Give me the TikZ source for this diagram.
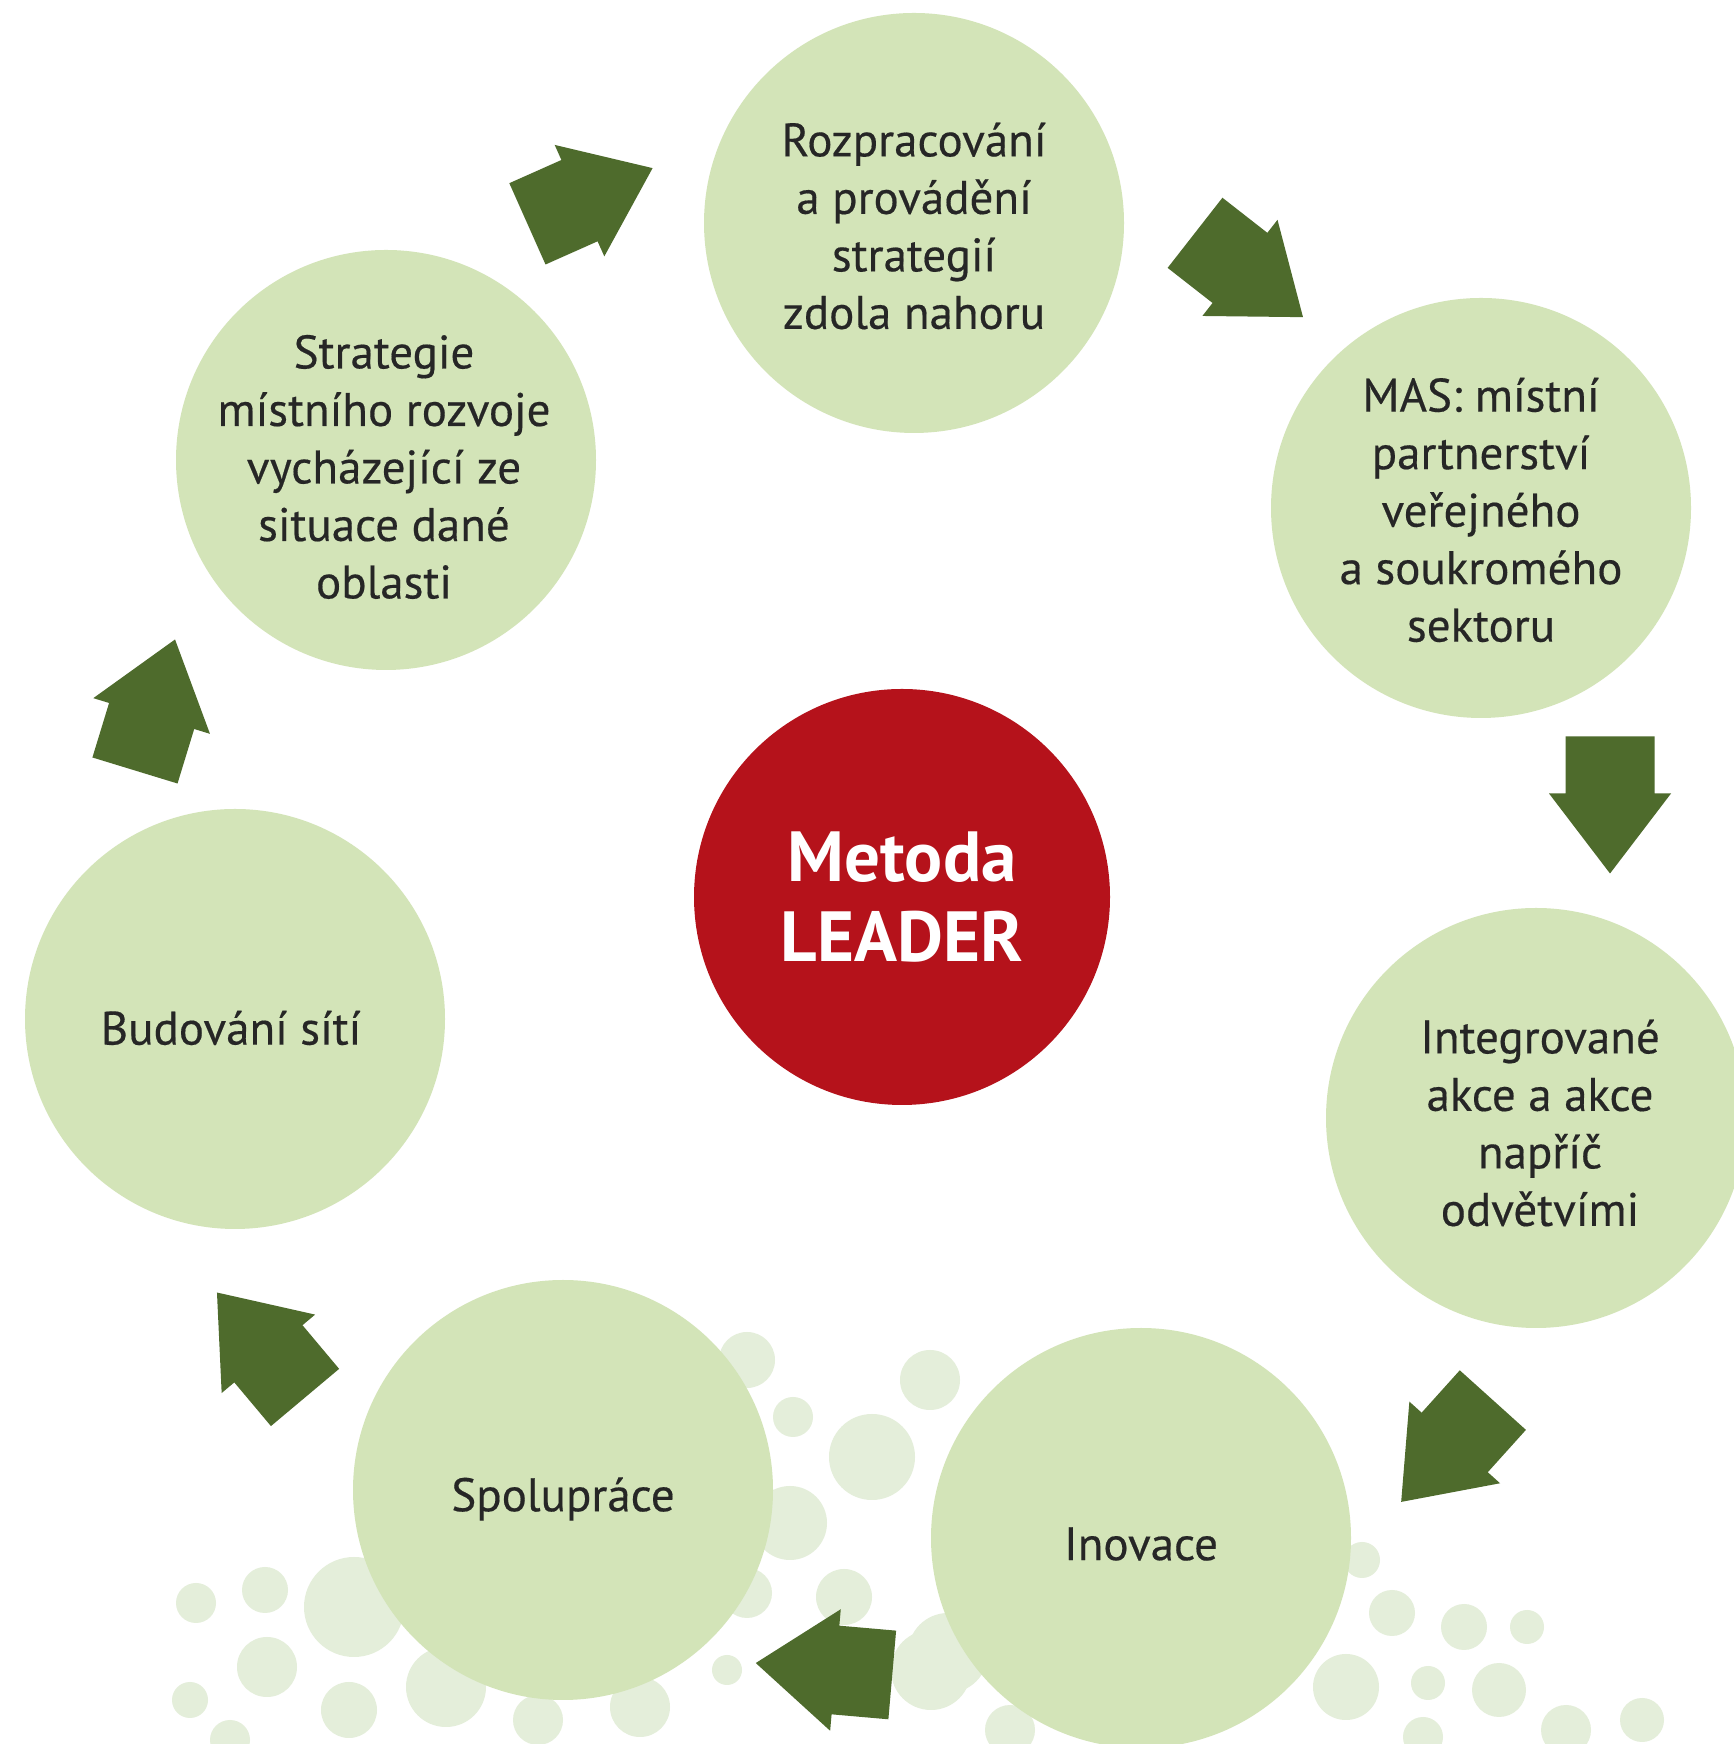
\documentclass[tikz,border=0pt]{standalone}
\usepackage{fontspec}
\setmainfont{PT Sans}
\newfontfamily\stagefont{PT Sans}[FakeBold=0.35]
\definecolor{circgreen}{HTML}{D3E4B8}
\definecolor{dotgreen}{HTML}{E4EEDA}
\definecolor{arrgreen}{HTML}{4E6B2C}
\definecolor{leadred}{HTML}{B5121B}
\definecolor{txtdark}{HTML}{262626}
\newcommand{\blockarr}[2]{\fill[arrgreen, shift={(#1)}, rotate=#2] (-68.5,-44.5) -- (-11.5,-44.5) -- (-11.5,-61) -- (68.5,0) -- (-11.5,61) -- (-11.5,44.5) -- (-68.5,44.5) -- cycle;}
\begin{document}
\begin{tikzpicture}[x=1pt,y=1pt,
  stage/.style={circle, fill=circgreen, minimum size=420pt, inner sep=0pt},
  stagetext/.style={align=center, inner sep=0pt, text=txtdark,
    font=\stagefont\fontsize{47}{57.5}\selectfont},
  hub/.style={circle, fill=leadred, minimum size=416pt, inner sep=0pt, align=center,
    text=white, font=\bfseries\fontsize{71}{80}\selectfont},
  dot/.style={fill=dotgreen}]
\useasboundingbox (0,0) rectangle (1733,1744);
\fill[white] (0,0) rectangle (1733,1744);
% background dots (image coords, y down)
\begin{scope}[shift={(0,1744)}, yscale=-1]
\foreach \x/\y/\r in {196/1603/20, 265/1590/23, 354/1607/50, 267/1667/30, 349/1710/28,
  446/1687/40, 538/1720/25, 640/1707/30, 727/1670/15, 747/1360/28, 793/1417/20,
  790/1523/37, 872/1457/43, 930/1380/30, 844/1597/28, 747/1593/25, 931/1670/40,
  1362/1560/18, 1392/1613/23, 1464/1627/23, 1527/1627/17, 1346/1687/33, 1428/1683/17,
  1499/1690/27, 1642/1720/22, 1566/1730/25, 1423/1737/20, 948/1653/40, 1010/1730/25,
  230/1740/20, 190/1700/18}
  \fill[dot] (\x,\y) circle (\r);
\end{scope}
% stages
\node[stage] (top) at (914,1521) {};
\node[stage] (mas) at (1481,1236) {};
\node[stage] (integ) at (1536,626) {};
\node[stage] (inov) at (1141,206) {};
\node[stage] (spol) at (563,254) {};
\node[stage] (bud) at (235,725) {};
\node[stage] (strat) at (386,1284) {};
\node[stagetext] (toptxt) at ([yshift=-3pt]top.center) {Rozpracování\\a provádění\\strategií\\zdola nahoru};
\node[stagetext] (mastxt) at ([yshift=-2pt]mas.center) {MAS: místní\\partnerství\\veřejného\\a soukromého\\sektoru};
\node[stagetext] (integtxt) at ([xshift=4pt,yshift=-5pt]integ.center) {Integrované\\akce a akce\\napříč\\odvětvími};
\node[stagetext] (inovtxt) at ([yshift=-6pt]inov.center) {Inovace};
\node[stagetext] (spoltxt) at ([yshift=-9pt]spol.center) {Spolupráce};
\node[stagetext] (budtxt) at ([xshift=-4pt,yshift=-9pt]bud.center) {Budování sítí};
\node[stagetext] (strattxt) at ([xshift=-2pt,yshift=-7pt]strat.center) {Strategie\\místního rozvoje\\vycházející ze\\situace dané\\oblasti};
\node[hub] (hub) at (902,847) {Metoda\\LEADER};
% arrows
\coordinate (a1) at (590,1548);
\coordinate (a2) at (1249,1469);
\coordinate (a3) at (1610,939);
\coordinate (a4) at (1447,293);
\coordinate (a5) at (824,75);
\coordinate (a6) at (261,399);
\coordinate (a7) at (155,1039);
\blockarr{a1}{24}
\blockarr{a2}{-38}
\blockarr{a3}{-90}
\blockarr{a4}{-132}
\blockarr{a5}{175}
\blockarr{a6}{130}
\blockarr{a7}{73}
\end{tikzpicture}
\end{document}
